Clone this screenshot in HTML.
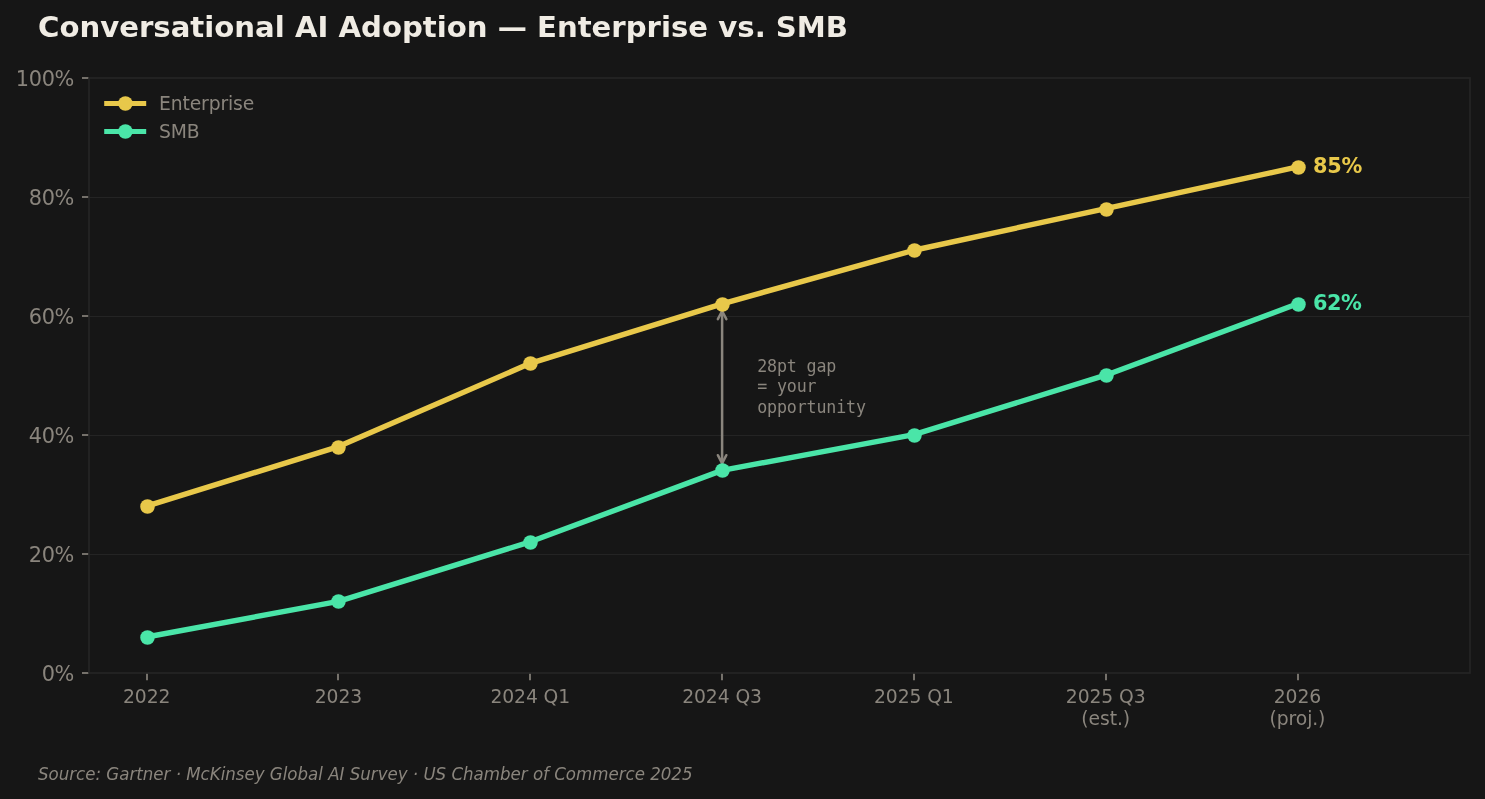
<!DOCTYPE html>
<html lang="en">
<head>
<meta charset="utf-8">
<title>Conversational AI Adoption — Enterprise vs. SMB</title>
<style>
  html, body { margin: 0; padding: 0; background: #161616; }
  body { width: 1485px; height: 799px; overflow: hidden; }
  svg { display: block; will-change: transform; }
  text { font-family: "DejaVu Sans", "Liberation Sans", sans-serif; fill: #8a857d; }
  .title { font-weight: bold; font-size: 29.17px; fill: #f0ece4; }
  .ytick { font-size: 20.83px; text-anchor: end; letter-spacing: -0.3px; }
  .xtick { font-size: 18.75px; text-anchor: middle; letter-spacing: -0.1px; }
  .leg { font-size: 18.75px; letter-spacing: -0.13px; }
  .ann { font-family: "DejaVu Sans Mono", "Liberation Mono", monospace; font-size: 16.67px; letter-spacing: -0.16px; }
  .end { font-weight: bold; font-size: 20.83px; letter-spacing: -0.3px; }
  .src { font-style: italic; font-size: 16.67px; letter-spacing: -0.018px; }
</style>
</head>
<body>
<svg width="1485" height="799" viewBox="0 0 1485 799">
  <rect x="0" y="0" width="1485" height="799" fill="#161616"/>

  <!-- title -->
  <text class="title" x="38" y="37">Conversational AI Adoption — Enterprise vs. SMB</text>

  <!-- grid -->
  <g stroke="#242424" stroke-width="1" fill="none" shape-rendering="crispEdges">
    <line x1="89" x2="1470" y1="554.5" y2="554.5"/>
    <line x1="89" x2="1470" y1="435.5" y2="435.5"/>
    <line x1="89" x2="1470" y1="316.5" y2="316.5"/>
    <line x1="89" x2="1470" y1="197.5" y2="197.5"/>
  </g>

  <!-- y ticks -->
  <g stroke="#8a857d" stroke-width="1.67">
    <line x1="82" x2="89" y1="673" y2="673"/>
    <line x1="82" x2="89" y1="554" y2="554"/>
    <line x1="82" x2="89" y1="435" y2="435"/>
    <line x1="82" x2="89" y1="316" y2="316"/>
    <line x1="82" x2="89" y1="197" y2="197"/>
    <line x1="82" x2="89" y1="78" y2="78"/>
  </g>
  <g class="ytick">
    <text class="ytick" x="74.1" y="680.9">0%</text>
    <text class="ytick" x="74.1" y="561.9">20%</text>
    <text class="ytick" x="74.1" y="442.9">40%</text>
    <text class="ytick" x="74.1" y="323.9">60%</text>
    <text class="ytick" x="74.1" y="204.9">80%</text>
    <text class="ytick" x="74.1" y="85.9">100%</text>
  </g>

  <!-- x ticks -->
  <g stroke="#8a857d" stroke-width="1.67">
    <line x1="147" x2="147" y1="673" y2="680.3"/>
    <line x1="338" x2="338" y1="673" y2="680.3"/>
    <line x1="530" x2="530" y1="673" y2="680.3"/>
    <line x1="722" x2="722" y1="673" y2="680.3"/>
    <line x1="914" x2="914" y1="673" y2="680.3"/>
    <line x1="1106" x2="1106" y1="673" y2="680.3"/>
    <line x1="1298" x2="1298" y1="673" y2="680.3"/>
  </g>
  <g>
    <text class="xtick" x="146.65" y="702.5">2022</text>
    <text class="xtick" x="338.45" y="702.5">2023</text>
    <text class="xtick" x="530.25" y="702.5">2024 Q1</text>
    <text class="xtick" x="722.05" y="702.5">2024 Q3</text>
    <text class="xtick" x="913.85" y="702.5">2025 Q1</text>
    <text class="xtick" x="1105.65" y="702.5">2025 Q3</text>
    <text class="xtick" x="1105.65" y="724.5">(est.)</text>
    <text class="xtick" x="1297.45" y="702.5">2026</text>
    <text class="xtick" x="1297.45" y="724.5">(proj.)</text>
  </g>

  <!-- spines -->
  <rect x="89" y="78" width="1381" height="595" fill="none" stroke="#262626" stroke-width="1.67"/>

  <!-- annotation arrow -->
  <g stroke="#8a857d" stroke-width="2.5" fill="none" stroke-linejoin="round" stroke-linecap="round">
    <line x1="722.11" x2="722.11" y1="311" y2="463.3"/>
    <polyline points="717.86,319.1 722.11,311 726.36,319.1"/>
    <polyline points="717.86,455.2 722.11,463.3 726.36,455.2"/>
  </g>
  <text class="ann" transform="translate(757.2,372.2) scale(1,1.09)">28pt gap</text>
  <text class="ann" transform="translate(757.2,392.0) scale(1,1.09)">= your</text>
  <text class="ann" transform="translate(757.2,412.8) scale(1,1.09)">opportunity</text>

  <!-- SMB line -->
  <polyline fill="none" stroke="#4ae5a8" stroke-width="5.4" stroke-linejoin="round" stroke-linecap="butt"
    points="146.65,637.0 338.47,601.3 530.29,541.8 722.11,470.4 913.93,434.7 1105.75,375.2 1297.57,303.8"/>
  <g fill="#4ae5a8">
    <circle cx="147.5" cy="637.5" r="7.25"/>
    <circle cx="338.5" cy="601.5" r="7.25"/>
    <circle cx="530.5" cy="542.5" r="7.25"/>
    <circle cx="722.5" cy="470.5" r="7.25"/>
    <circle cx="914.5" cy="435.5" r="7.25"/>
    <circle cx="1106.5" cy="375.5" r="7.25"/>
    <circle cx="1298.5" cy="304.5" r="7.25"/>
  </g>

  <!-- Enterprise line -->
  <polyline fill="none" stroke="#e8c84a" stroke-width="5.4" stroke-linejoin="round" stroke-linecap="butt"
    points="146.65,506.1 338.47,446.6 530.29,363.3 722.11,303.8 913.93,250.25 1105.75,208.6 1297.57,166.95"/>
  <g fill="#e8c84a">
    <circle cx="147.5" cy="506.5" r="7.25"/>
    <circle cx="338.5" cy="447.5" r="7.25"/>
    <circle cx="530.5" cy="363.5" r="7.25"/>
    <circle cx="722.5" cy="304.5" r="7.25"/>
    <circle cx="914.5" cy="250.5" r="7.25"/>
    <circle cx="1106.5" cy="209.5" r="7.25"/>
    <circle cx="1298.5" cy="167.5" r="7.25"/>
  </g>

  <!-- end labels -->
  <text class="end" x="1313.0" y="172.7" style="fill:#e8c84a">85%</text>
  <text class="end" x="1313.0" y="309.5" style="fill:#4ae5a8;letter-spacing:-0.55px">62%</text>

  <!-- legend -->
  <line x1="104.2" x2="146.2" y1="103.5" y2="103.5" stroke="#e8c84a" stroke-width="5"/>
  <circle cx="125.4" cy="103.5" r="7.25" fill="#e8c84a"/>
  <text class="leg" x="159" y="110">Enterprise</text>
  <line x1="104.2" x2="146.2" y1="131.5" y2="131.5" stroke="#4ae5a8" stroke-width="5"/>
  <circle cx="125.4" cy="131.5" r="7.25" fill="#4ae5a8"/>
  <text class="leg" x="159" y="138">SMB</text>

  <!-- source -->
  <text class="src" transform="translate(38,779.8) scale(1,1.04)">Source: Gartner · McKinsey Global AI Survey · US Chamber of Commerce 2025</text>
</svg>
</body>
</html>
